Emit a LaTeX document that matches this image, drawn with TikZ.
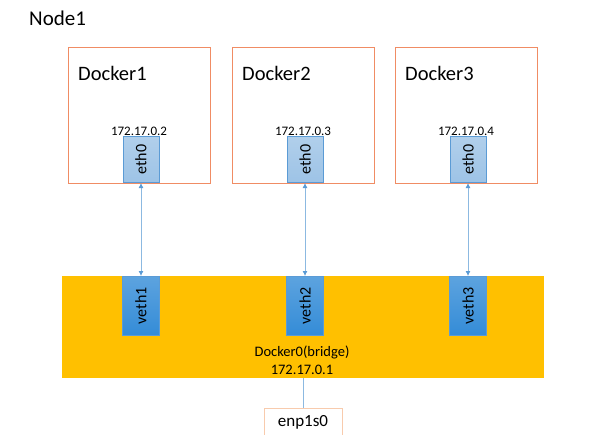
\documentclass[tikz,border=0pt]{standalone}
\usepackage{fontspec}
\setmainfont{Carlito}
\usetikzlibrary{arrows.meta}
\definecolor{dockline}{RGB}{240,140,100}
\definecolor{ethfill}{RGB}{157,195,230}
\definecolor{ethline}{RGB}{91,155,213}
\definecolor{vethfill}{RGB}{52,140,215}
\definecolor{bridgefill}{RGB}{255,192,0}
\definecolor{enpline}{RGB}{248,203,173}
\definecolor{arrline}{RGB}{140,185,225}
\tikzset{
  dockbox/.style={draw=dockline, line width=1pt, fill=white, minimum width=142pt, minimum height=136pt, inner sep=0pt},
  vethbox/.style={draw=ethline, line width=0.6pt, top color=vethfill!80!white, bottom color=vethfill, minimum width=37pt, minimum height=59pt, inner sep=0pt},
  vlabel/.style={font=\fontsize{16}{18}\selectfont, rotate=90},
  dlabel/.style={font=\fontsize{20.5}{24}\selectfont, anchor=west, inner sep=0pt},
  iplabel/.style={font=\fontsize{13}{15}\selectfont, inner sep=0pt},
  link/.style={draw=arrline, line width=0.8pt, {Latex[length=5pt,width=5pt,color=ethline]}-{Latex[length=5pt,width=5pt,color=ethline]}},
}
\begin{document}
\begin{tikzpicture}[x=1pt,y=-1pt]
\useasboundingbox (0,0) rectangle (601,434);
\node[font=\fontsize{21}{24}\selectfont, anchor=west, inner sep=0pt] (title) at (29,18) {Node1};
% bridge
\node[fill=bridgefill, minimum width=482pt, minimum height=102pt, inner sep=0pt, anchor=north west] (bridge) at (62,276) {};
\node[font=\fontsize{14.5}{17}\selectfont, align=center, inner sep=0pt] (brlabel) at (302,360) {Docker0(bridge)\\[1pt]172.17.0.1};
% docker boxes
\foreach \i/\cx/\ex/\ip in {1/139/141/172.17.0.2, 2/303/305/172.17.0.3, 3/466/468/172.17.0.4}{
  \node[dockbox] (d\i) at (\cx,115) {};
  \node[dlabel] (dl\i) at (\cx-61,73) {Docker\i};
  \node[draw=ethline, line width=0.6pt, top color=ethfill!80!white, bottom color=ethfill, minimum width=36pt, minimum height=46pt, inner sep=0pt, anchor=south] (e\i) at (\ex,183) {};
  \node[vlabel] (el\i) at (e\i.center) {eth0};
  \node[iplabel] (ip\i) at (\ex-2,131) {\ip};
  \node[vethbox, anchor=north] (v\i) at (\ex,276) {};
  \node[vlabel] (vl\i) at (v\i.center) {veth\i};
  \draw[link] (e\i.south) -- (v\i.north);
}
% enp1s0
\node[draw=enpline, line width=1pt, fill=white, minimum width=78pt, minimum height=28pt, inner sep=0pt, anchor=north, font=\fontsize{17}{20}\selectfont] (enp) at (303,408) {enp1s0};
\draw[draw=arrline, line width=0.8pt] (bridge.south -| enp.north) -- (enp.north);
\end{tikzpicture}
\end{document}
